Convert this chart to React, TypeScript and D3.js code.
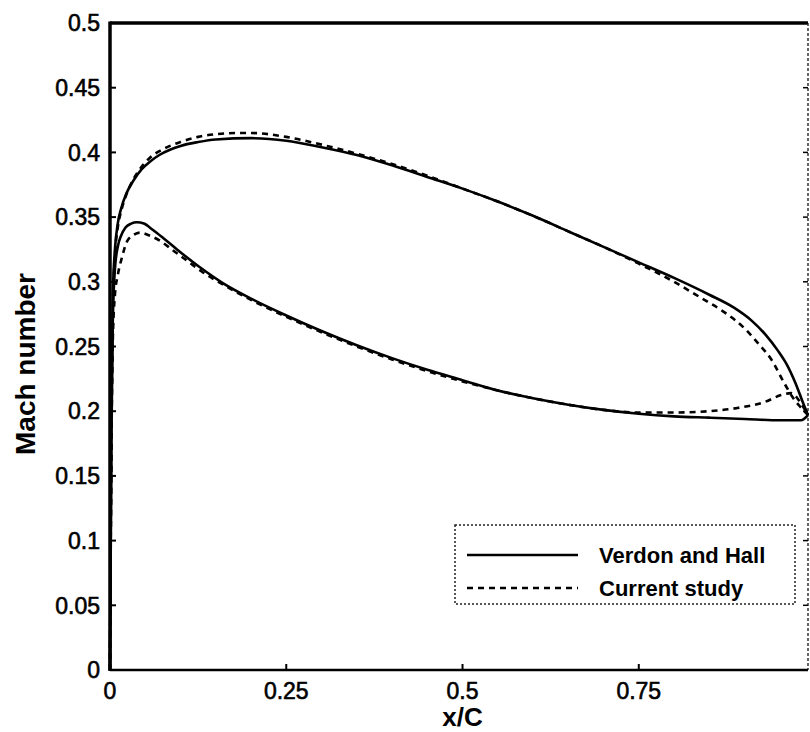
import * as d3 from "d3";
import { useEffect, useRef } from "react";

const xUpperVH = [0, 0.002, 0.004, 0.007, 0.011, 0.016, 0.023, 0.033, 0.045, 0.057, 0.07, 0.085, 0.1, 0.125, 0.15, 0.2, 0.25, 0.3, 0.35, 0.4, 0.45, 0.5, 0.55, 0.6, 0.65, 0.7, 0.75, 0.8, 0.85, 0.885, 0.91, 0.93, 0.947, 0.96, 0.972, 0.984, 0.99];
const machUpperVH = [0, 0.2, 0.29, 0.325, 0.345, 0.357, 0.368, 0.378, 0.387, 0.393, 0.398, 0.402, 0.405, 0.408, 0.41, 0.411, 0.409, 0.404, 0.398, 0.39, 0.381, 0.372, 0.362, 0.351, 0.339, 0.327, 0.315, 0.303, 0.29, 0.28, 0.27, 0.259, 0.247, 0.236, 0.222, 0.205, 0.197];

const xLowerVH = [0, 0.002, 0.004, 0.007, 0.011, 0.016, 0.022, 0.03, 0.038, 0.048, 0.061, 0.075, 0.095, 0.128, 0.16, 0.2, 0.25, 0.3, 0.35, 0.4, 0.45, 0.5, 0.55, 0.6, 0.65, 0.7, 0.75, 0.8, 0.85, 0.9, 0.95, 0.98, 0.99];
const machLowerVH = [0, 0.18, 0.27, 0.31, 0.327, 0.336, 0.342, 0.345, 0.346, 0.345, 0.34, 0.334, 0.325, 0.311, 0.299, 0.287, 0.274, 0.262, 0.251, 0.241, 0.232, 0.224, 0.216, 0.21, 0.205, 0.201, 0.198, 0.196, 0.195, 0.194, 0.193, 0.193, 0.197];

const xUpperCS = [0, 0.002, 0.004, 0.007, 0.011, 0.016, 0.023, 0.033, 0.045, 0.057, 0.07, 0.085, 0.1, 0.125, 0.15, 0.18, 0.2, 0.25, 0.3, 0.35, 0.4, 0.45, 0.5, 0.55, 0.6, 0.65, 0.7, 0.75, 0.8, 0.84, 0.87, 0.9, 0.92, 0.938, 0.956, 0.968, 0.978, 0.99];
const machUpperCS = [0, 0.19, 0.28, 0.32, 0.342, 0.355, 0.367, 0.379, 0.389, 0.396, 0.401, 0.405, 0.408, 0.412, 0.414, 0.415, 0.415, 0.412, 0.406, 0.399, 0.391, 0.382, 0.372, 0.362, 0.351, 0.339, 0.327, 0.314, 0.3, 0.287, 0.277, 0.264, 0.252, 0.24, 0.222, 0.211, 0.204, 0.197];

const xLowerCS = [0, 0.002, 0.004, 0.007, 0.011, 0.017, 0.024, 0.033, 0.043, 0.055, 0.07, 0.09, 0.11, 0.13, 0.16, 0.2, 0.25, 0.3, 0.35, 0.4, 0.45, 0.5, 0.55, 0.6, 0.65, 0.7, 0.75, 0.8, 0.85, 0.89, 0.928, 0.952, 0.966, 0.98, 0.99];
const machLowerCS = [0, 0.17, 0.255, 0.29, 0.305, 0.319, 0.331, 0.336, 0.338, 0.336, 0.332, 0.324, 0.316, 0.308, 0.298, 0.286, 0.273, 0.261, 0.25, 0.24, 0.231, 0.223, 0.216, 0.21, 0.205, 0.201, 0.199, 0.199, 0.2, 0.2025, 0.207, 0.2125, 0.214, 0.206, 0.197];

const yTicks = [0, 0.05, 0.1, 0.15, 0.2, 0.25, 0.3, 0.35, 0.4, 0.45, 0.5];
const xTicks = [0, 0.25, 0.5, 0.75];
const legendLabels = ["Verdon and Hall", "Current study"];

const FONT = "'Liberation Sans', Arial, sans-serif";

export default function App() {
  const ref = useRef<SVGSVGElement>(null);

  useEffect(() => {
    const width = 810;
    const height = 732;
    const svg = d3.select(ref.current).attr("width", width).attr("height", height);
    svg.selectAll("*").remove();

    const x = d3.scaleLinear().domain([0, 0.99]).range([110, 808]);
    const y = d3.scaleLinear().domain([0, 0.5]).range([670, 23]);

    const line = d3
      .line<[number, number]>()
      .x((d) => x(d[0]))
      .y((d) => y(d[1]))
      .curve(d3.curveMonotoneX);

    const zip = (xs: number[], ys: number[]) => xs.map((v, i) => [v, ys[i]] as [number, number]);

    // frame: top heavy, right thin dotted
    svg.append("line").attr("x1", x(0)).attr("x2", x(0.99)).attr("y1", y(0.5)).attr("y2", y(0.5))
      .attr("stroke", "#000").attr("stroke-width", 3.5);
    svg.append("line").attr("x1", x(0.99)).attr("x2", x(0.99)).attr("y1", y(0.5)).attr("y2", y(0))
      .attr("stroke", "#333").attr("stroke-width", 1.5).attr("stroke-dasharray", "3 2");

    // curves
    const series = [
      { d: zip(xUpperVH, machUpperVH), dash: null },
      { d: zip(xLowerVH, machLowerVH), dash: null },
      { d: zip(xUpperCS, machUpperCS), dash: "6 5" },
      { d: zip(xLowerCS, machLowerCS), dash: "6 5" },
    ];
    series.forEach((s) => {
      svg.append("path").datum(s.d).attr("d", line).attr("fill", "none")
        .attr("stroke", "#000").attr("stroke-width", 2.6)
        .attr("stroke-dasharray", s.dash);
    });

    // left axis
    svg.append("line").attr("x1", x(0)).attr("x2", x(0)).attr("y1", y(0.5) - 1.5).attr("y2", y(0) + 1)
      .attr("stroke", "#000").attr("stroke-width", 3.5);
    // bottom axis
    svg.append("line").attr("x1", x(0)).attr("x2", x(0.99)).attr("y1", y(0)).attr("y2", y(0))
      .attr("stroke", "#000").attr("stroke-width", 2.5);

    // y ticks
    svg.selectAll(".ytick").data(yTicks).enter().append("line")
      .attr("x1", x(0)).attr("x2", x(0) + 6).attr("y1", (d) => y(d)).attr("y2", (d) => y(d))
      .attr("stroke", "#000").attr("stroke-width", 2);
    svg.selectAll(".ytickr").data(yTicks).enter().append("line")
      .attr("x1", x(0.99)).attr("x2", x(0.99) - 5).attr("y1", (d) => y(d)).attr("y2", (d) => y(d))
      .attr("stroke", "#000").attr("stroke-width", 1.5);
    svg.selectAll(".ylab").data(yTicks).enter().append("text")
      .attr("x", 100).attr("y", (d) => y(d)).attr("dy", "0.36em")
      .attr("text-anchor", "end").attr("font-family", FONT).attr("font-size", 23)
      .attr("stroke", "#000").attr("stroke-width", 0.6)
      .text((d) => String(d));

    // x ticks
    svg.selectAll(".xtick").data(xTicks).enter().append("line")
      .attr("x1", (d) => x(d)).attr("x2", (d) => x(d)).attr("y1", y(0)).attr("y2", y(0) - 6)
      .attr("stroke", "#000").attr("stroke-width", 2);
    svg.selectAll(".xlab").data(xTicks).enter().append("text")
      .attr("x", (d) => x(d)).attr("y", 699)
      .attr("text-anchor", "middle").attr("font-family", FONT).attr("font-size", 23)
      .attr("stroke", "#000").attr("stroke-width", 0.6)
      .text((d) => String(d));

    // axis titles
    svg.append("text").attr("x", x(0.5)).attr("y", 726).attr("text-anchor", "middle")
      .attr("font-family", FONT).attr("font-size", 26).attr("font-weight", "bold")
      .text("x/C");
    svg.append("text").attr("transform", `translate(35,364) rotate(-90)`).attr("text-anchor", "middle")
      .attr("font-family", FONT).attr("font-size", 28).attr("font-weight", "bold")
      .text("Mach number");

    // legend
    const lg = svg.append("g");
    lg.append("rect").attr("x", 455).attr("y", 525).attr("width", 340).attr("height", 79)
      .attr("fill", "#fff").attr("stroke", "#222").attr("stroke-width", 1.5).attr("stroke-dasharray", "2 2");
    legendLabels.forEach((label, i) => {
      const ly = 555 + i * 33;
      lg.append("line").attr("x1", 467).attr("x2", 578).attr("y1", ly).attr("y2", ly)
        .attr("stroke", "#000").attr("stroke-width", 2.6)
        .attr("stroke-dasharray", i === 0 ? null : "6 5");
      lg.append("text").attr("x", 599).attr("y", ly).attr("dy", "0.36em")
        .attr("font-family", FONT).attr("font-size", 22).attr("font-weight", "bold")
        .text(label);
    });
  }, []);

  return <svg ref={ref} style={{ position: "absolute", left: 0, top: 0 }}></svg>;
}
